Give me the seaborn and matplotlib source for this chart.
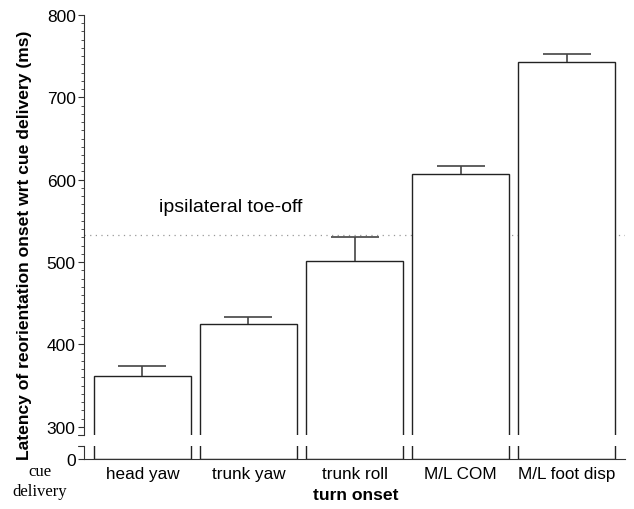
import matplotlib
matplotlib.use("Agg")
import matplotlib.pyplot as plt
import seaborn as sns
import pandas as pd
import numpy as np
from matplotlib.ticker import MultipleLocator

categories = ["head yaw", "trunk yaw", "trunk roll", "M/L COM", "M/L foot disp"]
latency = [362, 425, 501, 607, 743]
sem = [12, 8, 29, 10, 10]
toe_off = 533

df = pd.DataFrame({"onset": categories, "latency": latency})

sns.set_style("white")
plt.rcParams["font.family"] = ["Liberation Sans", "DejaVu Sans"]
plt.rcParams["text.color"] = "black"
plt.rcParams["xtick.color"] = "black"
plt.rcParams["ytick.color"] = "black"
plt.rcParams["axes.labelcolor"] = "black"

fig = plt.figure(figsize=(6.34, 5.1), dpi=100)
left, right = 84 / 634, 625 / 634
ax_top = fig.add_axes([left, 1 - 436 / 510, right - left, (436 - 16) / 510])
ax_bot = fig.add_axes([left, 1 - 460 / 510, right - left, (460 - 447) / 510])

for ax in (ax_top, ax_bot):
    sns.barplot(data=df, x="onset", y="latency", ax=ax, color="white",
                edgecolor="#222222", linewidth=1.0, width=0.91, errorbar=None)
    ax.set_xlim(-0.55, 4.55)
    ax.set_xlabel("")
    ax.set_ylabel("")
    for s in ("top", "right"):
        ax.spines[s].set_visible(False)
    ax.spines["left"].set_color("#333333")
    ax.spines["bottom"].set_color("#333333")

xs = np.arange(len(categories))
eb = ax_top.errorbar(xs, latency, yerr=[np.zeros(len(sem)), sem], fmt="none",
                     ecolor="#444444", elinewidth=1.2, capsize=17, capthick=1.2)
caplines = eb[1]
if len(caplines) >= 2:
    caplines[0].set_visible(False)

ax_top.set_ylim(290, 800)
ax_top.set_yticks([300, 400, 500, 600, 700, 800])
ax_top.yaxis.set_minor_locator(MultipleLocator(10))
ax_top.tick_params(axis="y", which="major", length=4, width=0.8, labelsize=12.5, pad=2,
                   left=True, color="#333333", labelcolor="black")
ax_top.tick_params(axis="y", which="minor", length=2.5, width=0.6, left=True, color="#333333")
ax_top.spines["bottom"].set_visible(False)
ax_top.set_xticks([])
ax_top.axhline(toe_off, color="#999999", linestyle=(0, (1, 3.5)), linewidth=0.9, zorder=0)
ax_top.text(0.16, 567, "ipsilateral toe-off", fontsize=14, va="center", ha="left", color="black")

ax_bot.set_ylim(0, 16)
ax_bot.set_yticks([0])
ax_bot.tick_params(axis="y", length=4, width=0.8, labelsize=12.5, pad=2, left=True,
                   color="#333333", labelcolor="black")
ax_bot.tick_params(axis="x", length=0, labelsize=12.3, pad=5, labelcolor="black")

# break marks
ax_top.plot([-0.012, 0.0], [0, 0], transform=ax_top.transAxes, color="#333333",
            lw=0.8, clip_on=False)
ax_bot.plot([-0.012, 0.0], [1, 1], transform=ax_bot.transAxes, color="#333333",
            lw=0.8, clip_on=False)

fig.text(25 / 634, 1 - 245 / 510, "Latency of reorientation onset wrt cue delivery (ms)",
         rotation=90, ha="center", va="center", fontsize=12.6, fontweight="bold", color="black")
fig.text(356 / 634, 1 - 496 / 510, "turn onset", ha="center", va="center",
         fontsize=12.6, fontweight="bold", color="black")
fig.text(40 / 634, 1 - 482 / 510, "cue\ndelivery", ha="center", va="center", color="black",
         fontsize=12, family=["Liberation Serif", "DejaVu Serif"], linespacing=1.3)

fig.savefig("out.png", dpi=100)
